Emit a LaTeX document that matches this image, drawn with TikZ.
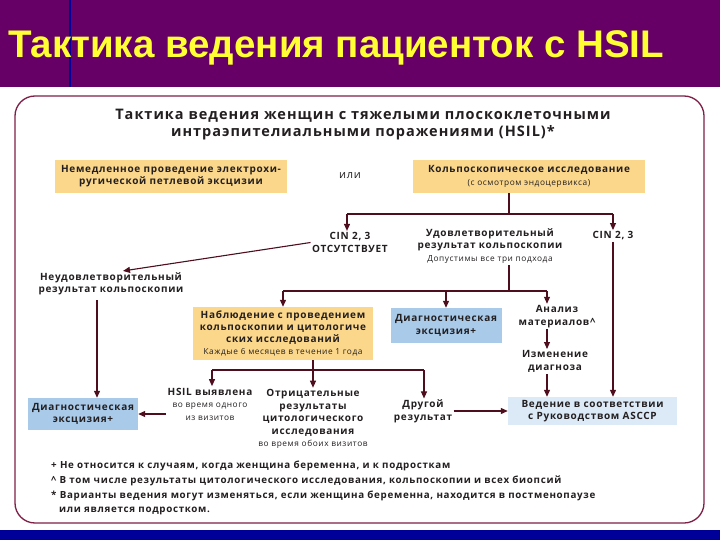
\documentclass[tikz,border=0pt]{standalone}
\usepackage{fontspec}
\setmainfont{Open Sans}[LetterSpace=7]
\newfontfamily\headfont{Liberation Sans}
\usetikzlibrary{arrows.meta,calc}

\definecolor{bandpurple}{HTML}{660066}
\definecolor{bandblue}{HTML}{000099}
\definecolor{titleyellow}{HTML}{FFFF33}
\definecolor{framered}{HTML}{7E1F45}
\definecolor{boxyellow}{HTML}{FBD78B}
\definecolor{boxblue}{HTML}{A9CAE9}
\definecolor{boxpale}{HTML}{DCE9F6}
\definecolor{arrowred}{HTML}{4E0E1E}
\definecolor{txtgray}{HTML}{231F20}

\newcommand\smallf{\mdseries\fontsize{8.3}{10}\selectfont}

\begin{document}
\begin{tikzpicture}[x=1pt,y=-1pt,
    lbl/.style={align=center,text=txtgray,inner sep=1.5pt,
      font=\bfseries\fontsize{10}{12.5}\selectfont},
    ybox/.style={lbl,fill=boxyellow},
    bbox/.style={lbl,fill=boxblue},
    ln/.style={draw=arrowred,line width=1.1pt},
    arr/.style={ln,-{Triangle[length=7pt,width=6pt]}}]
    \useasboundingbox (0,0) rectangle (720,540);

    % 背景与外框
    \fill[white] (0,0) rectangle (720,540);
    \fill[bandpurple] (0,0) rectangle (720,87);
    \draw[bandblue, line width=1.5pt] (70,0) -- (70,87);
    \fill[bandblue] (0,530) rectangle (720,540);
    \draw[framered, line width=1.3pt, rounded corners=20pt] (15,96) rectangle (704,523);

    % 标题
    \node[anchor=base west, inner sep=0, text=titleyellow,
      font=\headfont\bfseries\fontsize{38.5}{40}\selectfont] (title) at (8,58)
      {Тактика ведения пациенток с HSIL};
    \node[lbl, font=\bfseries\fontsize{14.5}{17}\selectfont] (head) at (363,124.5)
      {Тактика ведения женщин с тяжелыми плоскоклеточными\\интраэпителиальными поражениями (HSIL)*};

    % 第一行
    \node[ybox, minimum width=232, minimum height=33,
      font=\bfseries\fontsize{10}{12}\selectfont] (imm) at (171,176.5)
      {Немедленное проведение электрохи-\\ругической петлевой эксцизии};
    \node[lbl, font=\mdseries\fontsize{11}{13}\selectfont] (ili) at (350,176) {или};
    \node[ybox, minimum width=232, minimum height=33] (colpo) at (529,176.5)
      {Кольпоскопическое исследование\\{\smallf (с осмотром эндоцервикса)}};

    % 第二行
    \node[lbl] (nocin) at (350,242.5) {CIN 2, 3\\ОТСУТСТВУЕТ};
    \node[lbl] (sat) at (490,246) {Удовлетворительный\\результат кольпоскопии\\{\smallf Допустимы все три подхода}};
    \node[lbl] (cin) at (613,236) {CIN 2, 3};
    \node[lbl] (unsat) at (111,284) {Неудовлетворительный\\результат кольпоскопии};

    \coordinate (j1) at (509,214);
    \coordinate (j1l) at (347,214);
    \coordinate (j1r) at (613,214);
    \draw[ln] (colpo.south -| j1) -- (j1);
    \draw[ln] (j1l) -- (j1r);
    \draw[arr] (j1l) -- (nocin.north -| j1l);
    \draw[arr] (j1r) -- (cin.north -| j1r);
    \draw[arr] (nocin.west) -- ($(unsat.north)+(12,0)$);

    % 第三行
    \node[ybox, minimum width=180, minimum height=53, font=\bfseries\fontsize{10}{12}\selectfont] (obs) at (283,333.5)
      {Наблюдение с проведением\\кольпоскопии и цитологиче\\ских исследований\\{\smallf Каждые 6 месяцев в течение 1 года}};
    \node[bbox, minimum width=111, minimum height=35] (diag2) at (446,325.5) {Диагностическая\\эксцизия+};
    \node[lbl] (anal) at (557,316.5) {Анализ\\материалов\textasciicircum};
    \node[lbl] (change) at (555,361.5) {Изменение\\диагноза};

    \coordinate (j2) at (509,291);
    \coordinate (j2l) at (283,291);
    \coordinate (j2r) at (547,291);
    \draw[ln] (sat.south -| j2) -- (j2);
    \draw[ln] (j2l) -- (j2r);
    \draw[arr] (j2l) -- (obs.north);
    \draw[arr] (diag2.north |- j2) -- (diag2.north);
    \draw[arr] (j2r) -- (anal.north -| j2r);
    \draw[arr] (anal.south -| j2r) -- (change.north -| j2r);

    % 第四行
    \node[bbox, minimum width=110, minimum height=32] (diag1) at (83,414) {Диагностическая\\эксцизия+};
    \node[lbl] (hsil) at (210,404) {HSIL выявлена\\{\smallf во время одного}\\{\smallf из визитов}};
    \node[lbl] (neg) at (313,419) {Отрицательные\\результаты\\цитологического\\исследования\\{\smallf во время обоих визитов}};
    \node[lbl] (other) at (423,411.5) {Другой\\результат};
    \node[lbl, fill=boxpale, minimum width=169, minimum height=28] (asccp) at (592.5,411)
      {Ведение в соответствии\\с Руководством ASCCP};

    \coordinate (c1) at (97,300);
    \draw[arr] (c1) -- (c1 |- diag1.north);
    \coordinate (j3) at (313,370);
    \coordinate (j3l) at (212,370);
    \coordinate (j3r) at (424,370);
    \draw[ln] (obs.south -| j3) -- (j3);
    \draw[ln] (j3l) -- (j3r);
    \draw[arr] (j3l) -- (hsil.north -| j3l);
    \draw[arr] (j3) -- (neg.north);
    \draw[arr] (j3r) -- (other.north -| j3r);
    \draw[arr] (hsil.west |- diag1.east) -- (diag1.east);
    \draw[arr] (other.east |- asccp.west) -- (asccp.west);
    \draw[arr] (change.south -| j2r) -- (asccp.north -| j2r);
    \draw[arr] (cin.south) -- (asccp.north -| cin.south);

    % 注释
    \node[anchor=north west, align=left, inner sep=0, text=txtgray,
      font=\bfseries\fontsize{9.8}{14.7}\selectfont] (notes) at (51,461)
      {+ Не относится к случаям, когда женщина беременна, и к подросткам\\
       \textasciicircum{} В том числе результаты цитологического исследования, кольпоскопии и всех биопсий\\
       * Варианты ведения могут изменяться, если женщина беременна, находится в постменопаузе\\
       \hspace*{8pt}или является подростком.};
\end{tikzpicture}
\end{document}
